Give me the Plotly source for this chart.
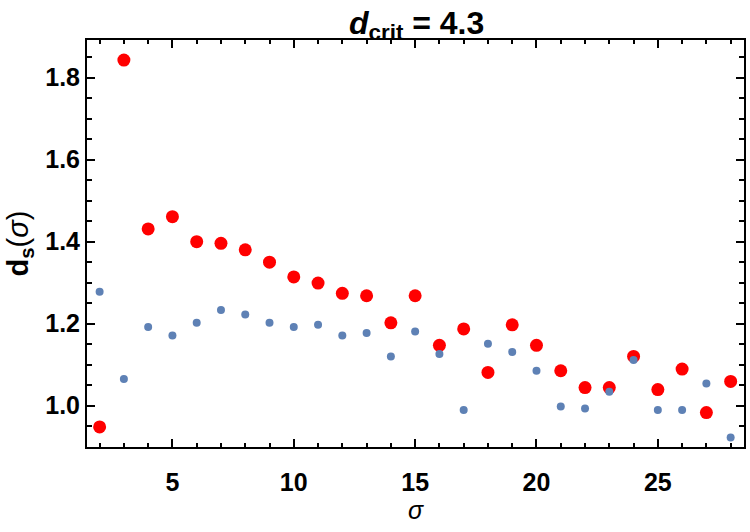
import plotly.graph_objects as go

sigma = list(range(2, 29))
red_vals = [0.948, 1.843, 1.431, 1.461, 1.400, 1.396, 1.380, 1.350, 1.314, 1.299,
            1.274, 1.268, 1.202, 1.268, 1.147, 1.187, 1.081, 1.197, 1.147, 1.085,
            1.044, 1.044, 1.120, 1.039, 1.089, 0.983, 1.059]
blue_vals = [1.278, 1.065, 1.192, 1.171, 1.202, 1.233, 1.222, 1.202, 1.192, 1.197,
             1.171, 1.177, 1.120, 1.181, 1.126, 0.989, 1.151, 1.131, 1.085, 0.998,
             0.993, 1.034, 1.111, 0.989, 0.989, 1.054, 0.922]

RED = "#FF0000"
BLUE = "#5E81B5"
FONT = "Liberation Sans"

fig = go.Figure()
fig.add_trace(go.Scatter(x=sigma, y=red_vals, mode="markers",
                         marker=dict(color=RED, size=13, line=dict(width=0)),
                         showlegend=False, hoverinfo="x+y"))
fig.add_trace(go.Scatter(x=sigma, y=blue_vals, mode="markers",
                         marker=dict(color=BLUE, size=8, line=dict(width=0)),
                         showlegend=False, hoverinfo="x+y"))

axis_common = dict(
    showgrid=False, zeroline=False, showline=True, linecolor="black", linewidth=2,
    mirror="ticks", ticks="inside", tickcolor="black", tickwidth=1.6, ticklen=8,
    tickfont=dict(family=FONT, size=25, color="black", weight="bold"),
)

fig.update_layout(
    width=750, height=532,
    margin=dict(l=87, r=4, t=40, b=85),
    paper_bgcolor="white", plot_bgcolor="white",
    title=dict(text="<b><i>d</i><sub>crit</sub> = 4.3</b>", x=0.5555, xanchor="center",
               y=0.958, yanchor="middle",
               font=dict(family=FONT, size=32, color="black")),
    xaxis=dict(range=[1.48, 28.55], tick0=0, dtick=5,
               minor=dict(dtick=1, ticks="inside", ticklen=4, tickcolor="black", tickwidth=1.6),
               ticklabelstandoff=12,
               title=dict(text="<i>σ</i>", font=dict(family=FONT, size=25, color="black"),
                          standoff=6),
               **axis_common),
    yaxis=dict(range=[0.899, 1.892], tick0=0, dtick=0.2, tickformat=".1f",
               minor=dict(dtick=0.05, ticks="inside", ticklen=5, tickcolor="black", tickwidth=1.6),
               ticklabelstandoff=0,
               title=dict(text="<b>d<sub>s</sub></b>(<i>σ</i>)",
                          font=dict(family=FONT, size=29, color="black"), standoff=8),
               **axis_common),
)

fig.write_html("out.html")
